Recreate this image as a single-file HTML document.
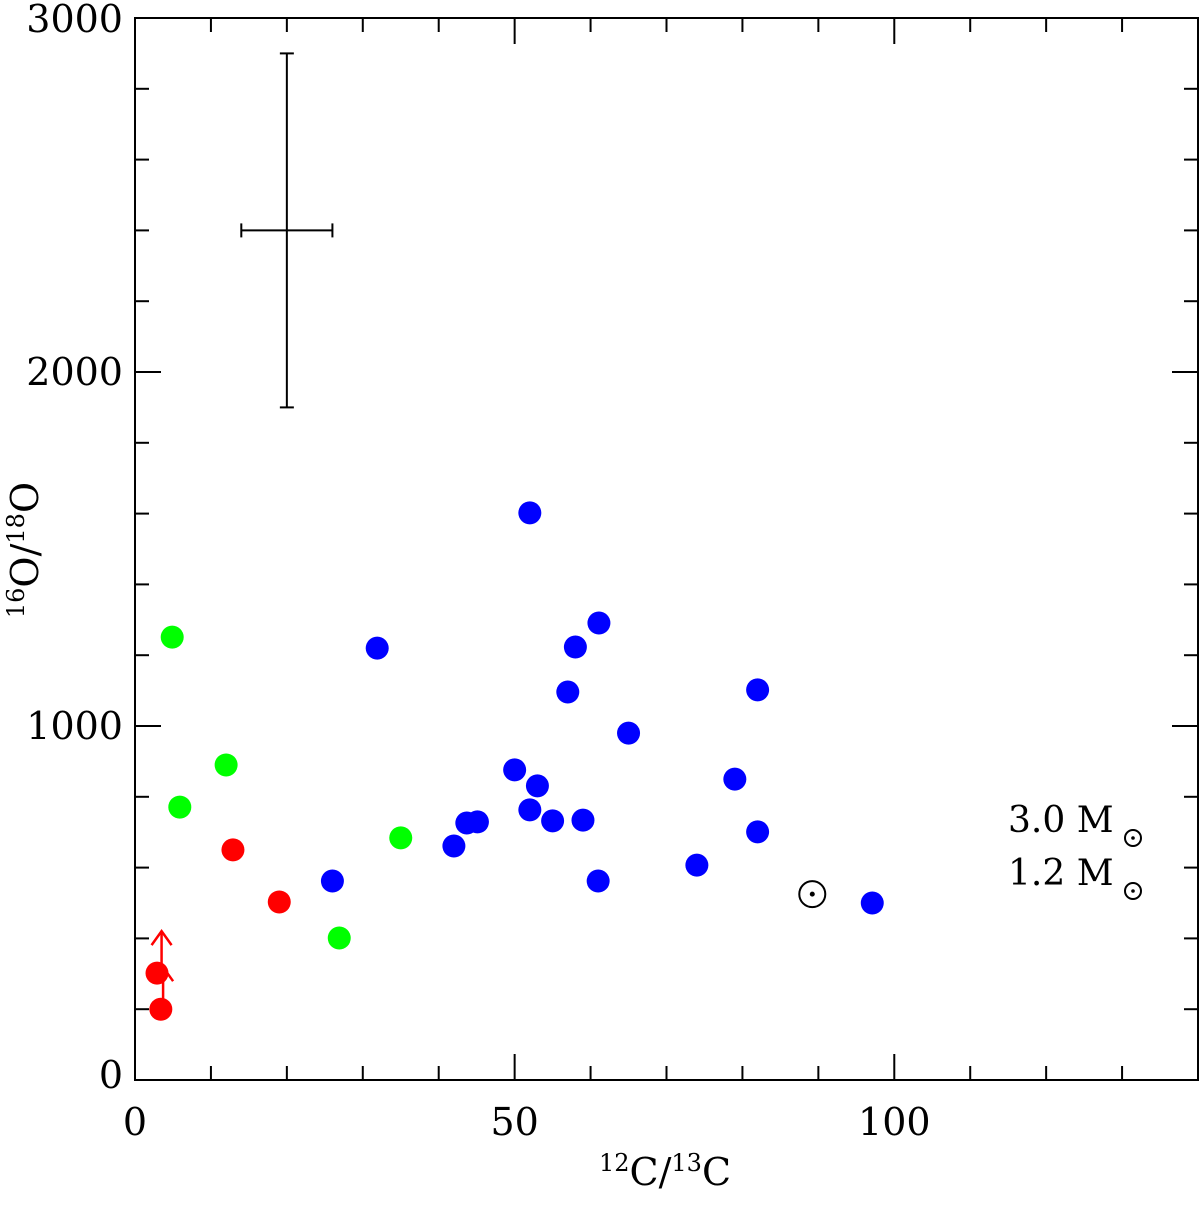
<!DOCTYPE html>
<html><head><meta charset="utf-8"><style>
body{margin:0;background:#fff}
svg{display:block}
text{font-family:"DejaVu Serif","Liberation Serif",serif;fill:#000}
</style></head><body>
<svg id="chart" width="1200" height="1205" xmlns="http://www.w3.org/2000/svg"></svg>
<script>
const blueX=[52,31.9,61.1,58,57,82,65,50,53,79,52,55,59,43.7,45.1,82,42,26,61,74,97.1];
const blueY=[1602,1220,1291,1223,1096,1102,980,876,831,850,763,732,734,726,729,701,661,562,562,607,500];
const greenX=[4.9,12,5.9,35,26.9];
const greenY=[1251,890,771,684,401];
const redX=[12.9,19,2.9,3.4];
const redY=[650,503,302,200];
const limitX=[3.5,3.7];
const limitY=[302,200];
const xTicks=[0,50,100];
const yTicks=[0,1000,2000,3000];
const sunX=89.2, sunY=525;
const errX=20, errY=2400, errDX=6, errDY=500;

const L=135,R=1198,T=18,B=1080,XMAX=140,YMAX=3000;
const sx=v=>L+v/XMAX*(R-L);
const sy=v=>B-v/YMAX*(B-T);
const svg=document.getElementById('chart');
const NS='http://www.w3.org/2000/svg';
function mk(tag,at,parent){const e=document.createElementNS(NS,tag);for(const k in at)e.setAttribute(k,at[k]);(parent||svg).appendChild(e);return e;}

const frame=mk('rect',{x:L,y:T,width:R-L,height:B-T,fill:'none',stroke:'#000','stroke-width':2});



const ticks=mk('g',{stroke:'#000','stroke-width':2});


for(let v=10;v<XMAX;v+=10){const len=(v%50===0)?26:14;const x=sx(v);
  mk('line',{x1:x,y1:B,x2:x,y2:B-len},ticks);mk('line',{x1:x,y1:T,x2:x,y2:T+len},ticks);}
for(let v=200;v<YMAX;v+=200){const len=(v%1000===0)?26:14;const y=sy(v);
  mk('line',{x1:L,y1:y,x2:L+len,y2:y},ticks);mk('line',{x1:R,y1:y,x2:R-len,y2:y},ticks);}

xTicks.forEach(v=>{const t=mk('text',{x:sx(v),y:1135,'text-anchor':'middle','font-size':38});t.textContent=v;
  });
yTicks.forEach(v=>{const t=mk('text',{x:123,y:sy(v)+(v===3000?14:(v===0?8:13)),'text-anchor':'end','font-size':38});t.textContent=v;
  });

const xt=mk('text',{x:665,y:1185,'text-anchor':'middle','font-size':38});
xt.innerHTML='<tspan font-size="24" dy="-14">12</tspan><tspan dy="14">C/</tspan><tspan font-size="24" dy="-14">13</tspan><tspan dy="14">C</tspan>';

const yt=mk('text',{x:0,y:0,'text-anchor':'middle','font-size':38,transform:'translate(38,550) rotate(-90)'});
yt.innerHTML='<tspan font-size="24" dy="-14">16</tspan><tspan dy="14">O/</tspan><tspan font-size="24" dy="-14">18</tspan><tspan dy="14">O</tspan>';


const eb=mk('g',{stroke:'#000','stroke-width':2});

mk('line',{x1:sx(errX),y1:sy(errY+errDY),x2:sx(errX),y2:sy(errY-errDY)},eb);
mk('line',{x1:sx(errX)-7,y1:sy(errY+errDY),x2:sx(errX)+7,y2:sy(errY+errDY)},eb);
mk('line',{x1:sx(errX)-7,y1:sy(errY-errDY),x2:sx(errX)+7,y2:sy(errY-errDY)},eb);
mk('line',{x1:sx(errX-errDX),y1:sy(errY),x2:sx(errX+errDX),y2:sy(errY)},eb);
mk('line',{x1:sx(errX-errDX),y1:sy(errY)-7,x2:sx(errX-errDX),y2:sy(errY)+7},eb);
mk('line',{x1:sx(errX+errDX),y1:sy(errY)-7,x2:sx(errX+errDX),y2:sy(errY)+7},eb);

limitX.forEach((v,i)=>{const g=mk('g',{stroke:'#f00','stroke-width':2.5,fill:'none'});
  
  const x=sx(v),y0=sy(limitY[i]),y1=y0-42;
  mk('line',{x1:x,y1:y0,x2:x,y2:y1},g);mk('polyline',{points:`${x-10},${y1+14} ${x},${y1} ${x+10},${y1+14}`},g);});

function dots(xs,ys,col,name){xs.forEach((v,i)=>{const c=mk('circle',{cx:sx(v),cy:sy(ys[i]),r:11.5,fill:col});
  });}
dots(blueX,blueY,'#0000ff','blue-point');
dots(greenX,greenY,'#00ff00','green-point');
dots(redX,redY,'#ff0000','red-point');

const sun=mk('g',{});

mk('circle',{cx:sx(sunX),cy:sy(sunY),r:13,fill:'none',stroke:'#000','stroke-width':2},sun);
mk('circle',{cx:sx(sunX),cy:sy(sunY),r:2.5,fill:'#000'},sun);

[['3.0',832],['1.2',885]].forEach(([m,y])=>{const t=mk('text',{x:1008,y:y,'font-size':36,'font-family':'"Liberation Mono",monospace'});t.textContent=m+' M';
  
  const g=mk('g',{});
  mk('circle',{cx:1133,cy:y+6,r:8,fill:'none',stroke:'#000','stroke-width':2},g);mk('circle',{cx:1133,cy:y+6,r:1.8,fill:'#000'},g);});
</script>
</body></html>
